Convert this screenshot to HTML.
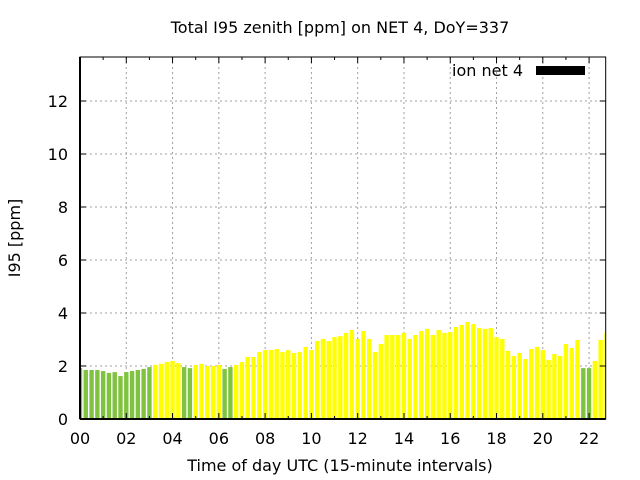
<!DOCTYPE html>
<html><head><meta charset="utf-8"><style>
html,body{margin:0;padding:0;background:#fff;}
svg{display:block;font-family:"DejaVu Sans","Liberation Sans",sans-serif;}
</style></head><body>
<svg id="chart" width="640" height="480" viewBox="0 0 640 480">
<rect width="640" height="480" fill="#fff"/>
<text x="340" y="33" text-anchor="middle" font-size="16" fill="#000">Total I95 zenith [ppm] on NET 4, DoY=337</text>
<g id="grid"></g>
<g id="bars"></g>
<g id="axes"></g>
<text x="340" y="471" text-anchor="middle" font-size="16">Time of day UTC (15-minute intervals)</text>
<text transform="translate(20,238) rotate(-90)" text-anchor="middle" font-size="16">I95 [ppm]</text>
<g>
<text x="523" y="76" text-anchor="end" font-size="16">ion net 4</text>
<rect x="536" y="66" width="49" height="9" fill="#000"/>
</g>
</svg>
<script>
const values=[1.92,1.85,1.85,1.85,1.81,1.74,1.77,1.62,1.77,1.81,1.85,1.89,1.96,2.04,2.08,2.15,2.19,2.11,1.96,1.92,
2.04,2.08,2.0,2.0,2.04,1.89,1.96,2.04,2.15,2.34,2.34,2.53,2.60,2.60,2.64,2.53,2.60,2.49,2.53,2.72,
2.60,2.94,3.02,2.94,3.09,3.13,3.25,3.36,3.02,3.32,3.02,2.53,2.83,3.17,3.17,3.17,3.25,3.02,3.17,3.32,
3.40,3.17,3.36,3.25,3.28,3.47,3.55,3.66,3.58,3.43,3.40,3.43,3.09,3.02,2.57,2.38,2.49,2.26,2.64,2.72,
2.60,2.23,2.45,2.38,2.83,2.68,2.98,1.92,1.92,2.19,2.98,3.25];
const greenIdx=[0,1,2,3,4,5,6,7,8,9,10,11,12,18,19,25,26,87,88];
const yTicks=[0,2,4,6,8,10,12];
const xTickLabels=["00","02","04","06","08","10","12","14","16","18","20","22"];
const L=80,R=605.7,T=57,B=419,HOUR=23.14,YU=26.5;
const xs=h=>L+h*HOUR, ys=v=>B-v*YU;
const NS="http://www.w3.org/2000/svg";
const mk=(p,t,a)=>{const e=document.createElementNS(NS,t);for(const k in a)e.setAttribute(k,a[k]);p.appendChild(e);return e;};
const grid=document.getElementById('grid'),bars=document.getElementById('bars'),axes=document.getElementById('axes');
yTicks.forEach(v=>{
 if(v>0){const g=mk(grid,'line',{x1:L,x2:R,y1:ys(v),y2:ys(v),stroke:'#a0a0a0','stroke-dasharray':'2,3'});
 
 }
 const t=mk(axes,'text',{x:L-12,y:ys(v)+6,'text-anchor':'end','font-size':16});t.textContent=v;
 
 
 mk(axes,'line',{x1:L,x2:L+6,y1:ys(v),y2:ys(v),stroke:'#000'});
 mk(axes,'line',{x1:R,x2:R-6,y1:ys(v),y2:ys(v),stroke:'#000'});
});
xTickLabels.forEach((lab,i)=>{
 const x=xs(i*2);
 if(i>0){const g=mk(grid,'line',{x1:x,x2:x,y1:T,y2:B,stroke:'#a0a0a0','stroke-dasharray':'2,3'});
 
 }
 const t=mk(axes,'text',{x:x,y:444,'text-anchor':'middle','font-size':16});t.textContent=lab;
 
 
});
for(let h=0;h<=22;h++){const x=xs(h),len=h%2?3:6;
 mk(axes,'line',{x1:x,x2:x,y1:B,y2:B-len,stroke:'#000'});
 mk(axes,'line',{x1:x,x2:x,y1:T,y2:T+len,stroke:'#000'});}
const bw=4.4;
values.forEach((v,i)=>{
 const cx=xs(i*0.25);let x0=Math.max(L,cx-bw/2),x1=Math.min(R,cx+bw/2);
 if(x1<=x0)return;
 const r=mk(bars,'rect',{x:x0,y:ys(v),width:x1-x0,height:B-ys(v),fill:greenIdx.includes(i)?'#80c340':'#ffff00'});
 
 
});
const bd=mk(axes,'rect',{x:L,y:T,width:R-L,height:B-T,fill:'none',stroke:'#000','stroke-width':1});


mk(axes,'line',{x1:L,x2:R,y1:B,y2:B,stroke:'#000','stroke-width':2});
mk(axes,'line',{x1:L,x2:L,y1:T,y2:B,stroke:'#000','stroke-width':2});
</script>
</body></html>
